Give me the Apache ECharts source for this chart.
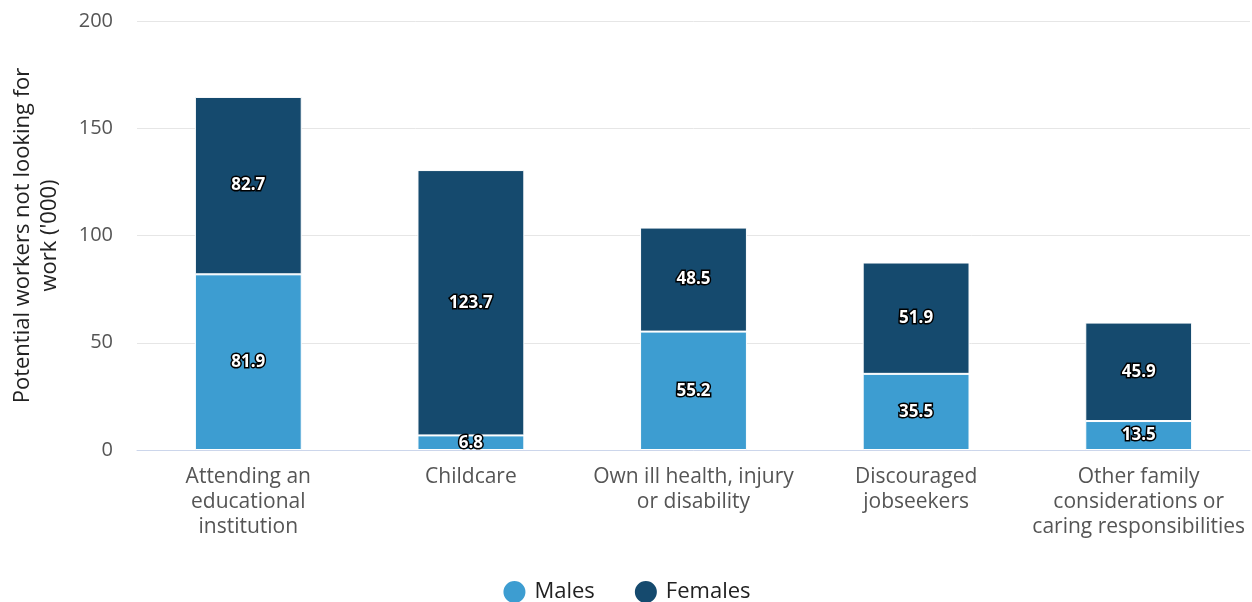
<!DOCTYPE html>
<html>
<head>
<meta charset="utf-8">
<script src="https://cdn.jsdelivr.net/npm/echarts@6/dist/echarts.min.js"></script>
<style>
  html, body { margin: 0; padding: 0; background: #fff; }
  #chart { width: 1252px; height: 602px; }
</style>
</head>
<body>
<div id="chart"></div>
<script>
var categories = ["Attending an\neducational\ninstitution", "Childcare", "Own ill health, injury\nor disability", "Discouraged\njobseekers", "Other family\nconsiderations or\ncaring responsibilities"];
var males = [81.9, 6.8, 55.2, 35.5, 13.5];
var females = [82.7, 123.7, 48.5, 51.9, 45.9];
var yTicks = [0, 50, 100, 150, 200];

var fontFamily = '"Open Sans", "Noto Sans", sans-serif';

// bar labels: white bold text with dark outline
var barLabel = {
    show: true,
    position: 'inside',
    color: '#fff',
    fontFamily: fontFamily,
    fontWeight: 'bold',
    fontSize: 17,
    textBorderColor: '#000',
    textBorderWidth: 3
};

var chart = echarts.init(document.getElementById('chart'));
chart.setOption({
    animation: false,
    textStyle: { fontFamily: fontFamily },
    grid: { left: 137, right: 2, top: 21, bottom: 152, outerBoundsMode: 'none', containLabel: false },
    legend: {
        top: 579,
        padding: 0,
        left: 'center',
        icon: 'circle',
        itemWidth: 24,
        itemHeight: 24,
        itemGap: 38,
        textStyle: { fontSize: 22, color: '#222', fontFamily: fontFamily, padding: [0, 0, 0, 3] },
        data: ['Males', 'Females']
    },
    xAxis: {
        type: 'category',
        data: categories,
        axisLine: { lineStyle: { color: '#ccd6eb' } },
        axisTick: { show: false },
        axisLabel: { color: '#555', fontSize: 21, lineHeight: 25, margin: 15, interval: 0 }
    },
    yAxis: {
        type: 'value',
        min: yTicks[0],
        max: yTicks[yTicks.length - 1],
        interval: 50,
        name: "Potential workers not looking for\nwork ('000)",
        nameLocation: 'middle',
        nameGap: 74,
        nameTextStyle: { fontSize: 22, color: '#222', lineHeight: 27 },
        axisLabel: { color: '#555', fontSize: 20, margin: 24 },
        splitLine: { lineStyle: { color: '#e6e6e6' } }
    },
    series: [
        {
            name: 'Males',
            type: 'bar',
            stack: 'total',
            barWidth: '48%',
            data: males,
            itemStyle: { color: '#3d9dd1', borderColor: '#fff', borderWidth: 1 },
            label: barLabel
        },
        {
            name: 'Females',
            type: 'bar',
            stack: 'total',
            barWidth: '48%',
            data: females,
            itemStyle: { color: '#154a6e', borderColor: '#fff', borderWidth: 1 },
            label: barLabel
        }
    ]
});
</script>
</body>
</html>
